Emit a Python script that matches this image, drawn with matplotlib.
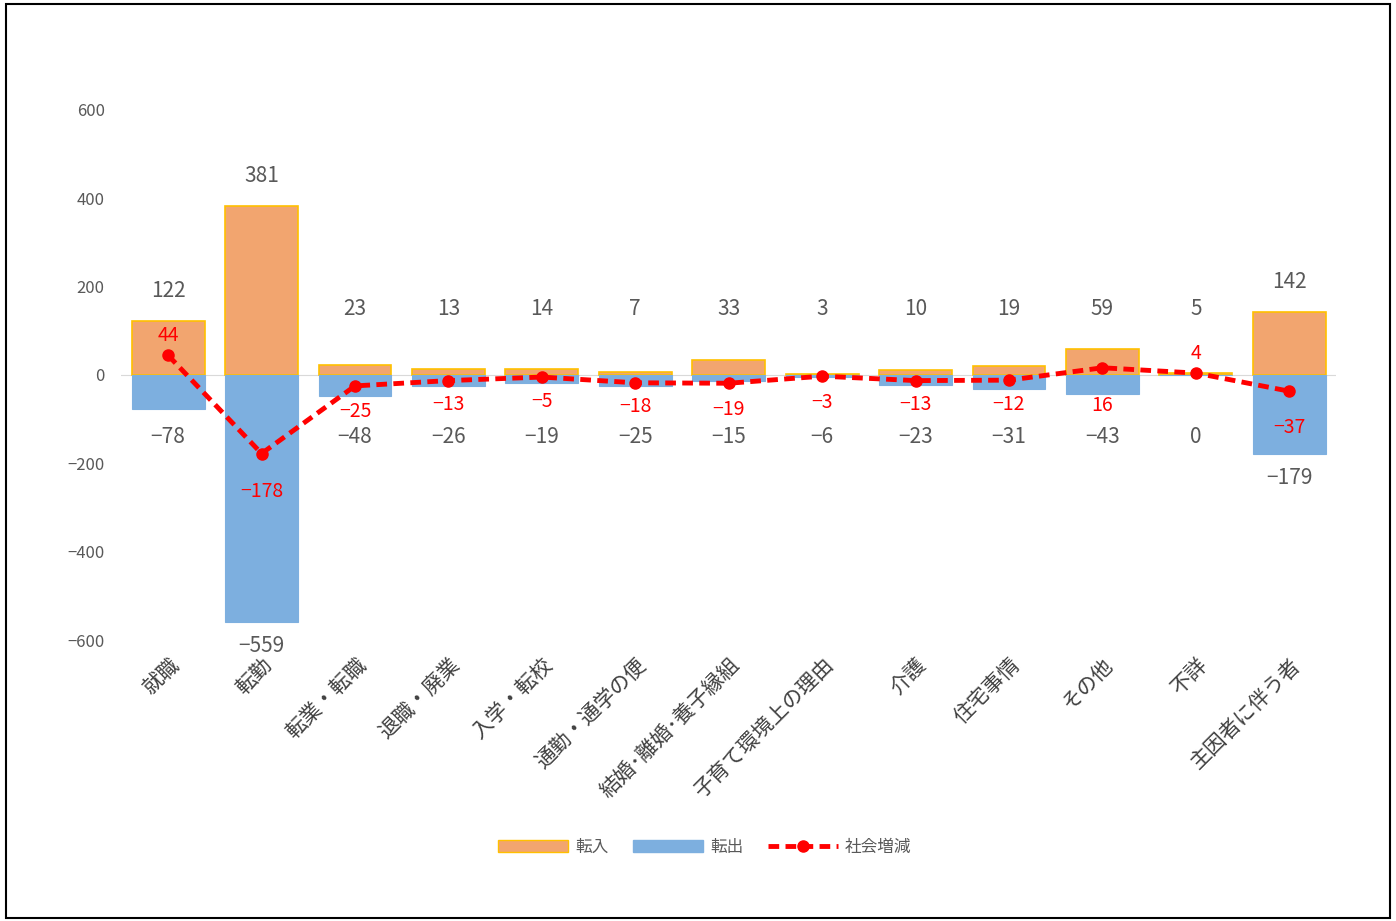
import matplotlib
matplotlib.use('Agg')
import matplotlib.pyplot as plt
from matplotlib.patches import Rectangle, Patch
from matplotlib.lines import Line2D

plt.rcParams['font.family'] = ['Noto Sans CJK JP', 'DejaVu Sans']

# data
categories = ['就職', '転勤', '転業・転職', '退職・廃業', '入学・転校', '通勤・通学の便',
              '結婚･離婚･養子縁組', '子育て環境上の理由', '介護', '住宅事情', 'その他',
              '不詳', '主因者に伴う者']
tennyu = [122, 381, 23, 13, 14, 7, 33, 3, 10, 19, 59, 5, 142]
tenshutsu = [-78, -559, -48, -26, -19, -25, -15, -6, -23, -31, -43, 0, -179]
shakai = [44, -178, -25, -13, -5, -18, -19, -3, -13, -12, 16, 4, -37]
yticks = [-600, -400, -200, 0, 200, 400, 600]

orange = '#F2A56F'
blue = '#7DAFDF'
red = '#FF0000'
gray = '#595959'

# pixel offsets of the red labels from their markers
net_dy = [20, -38, -26, -24, -24, -24, -26, -26, -24, -24, -38, 20, -36]


def fmt(v):
    return str(v).replace('-', '\u2212')


fig = plt.figure(figsize=(13.96, 9.21), dpi=100)
ax = fig.add_axes([0.087, 0.305, 0.87, 0.576])

x = range(len(categories))
ax.bar(x, tennyu, width=0.78, color=orange, edgecolor='#FFC000', linewidth=1.2, zorder=2)
ax.bar(x, tenshutsu, width=0.78, color=blue, edgecolor=blue, linewidth=0.8, zorder=2)
ax.plot(x, shakai, color=red, linestyle=(0, (2.2, 1.3)), linewidth=3.5,
        marker='o', markersize=8, zorder=4)
ax.axhline(0, color='#D9D9D9', linewidth=0.8, zorder=1)

# value labels
for i in x:
    ax.text(i, max(tennyu[i], 80) + 68, fmt(tennyu[i]), ha='center', va='center',
            fontsize=15, color=gray, zorder=5)
    ax.text(i, min(tenshutsu[i], -85) - 55, fmt(tenshutsu[i]), ha='center', va='center',
            fontsize=15, color=gray, zorder=5)
    ax.annotate(fmt(shakai[i]), (i, shakai[i]), xytext=(0, net_dy[i]),
                textcoords='offset pixels', ha='center', va='center',
                fontsize=14, color=red, zorder=5)

ax.set_xlim(-0.5, len(categories) - 0.5)
ax.set_ylim(-600, 600)
ax.set_yticks(yticks)
ax.set_yticklabels([fmt(t) for t in yticks], fontsize=12, color=gray)
ax.set_xticks(list(x))
ax.set_xticklabels(categories, rotation=45, ha='right', rotation_mode='anchor',
                   fontsize=15, color='#404040')
ax.tick_params(length=0, pad=10)
ax.tick_params(axis='y', pad=12)
for s in ax.spines.values():
    s.set_visible(False)

handles = [Patch(facecolor=orange, edgecolor='#FFC000'),
           Patch(facecolor=blue, edgecolor=blue),
           Line2D([0], [0], color=red, linestyle=(0, (2.2, 1.3)), linewidth=3.5,
                  marker='o', markersize=8)]
fig.legend(handles, ['転入', '転出', '社会増減'], loc='center', bbox_to_anchor=(0.505, 0.08),
           ncol=3, frameon=False, fontsize=12, handlelength=4.2, handleheight=0.7,
           columnspacing=1.5, handletextpad=0.4, labelcolor=gray)

# outer frame
fig.patches.append(Rectangle((0.004, 0.003), 0.992, 0.993, transform=fig.transFigure,
                             fill=False, edgecolor='black', linewidth=1.5))

fig.savefig('out.png', dpi=100)
